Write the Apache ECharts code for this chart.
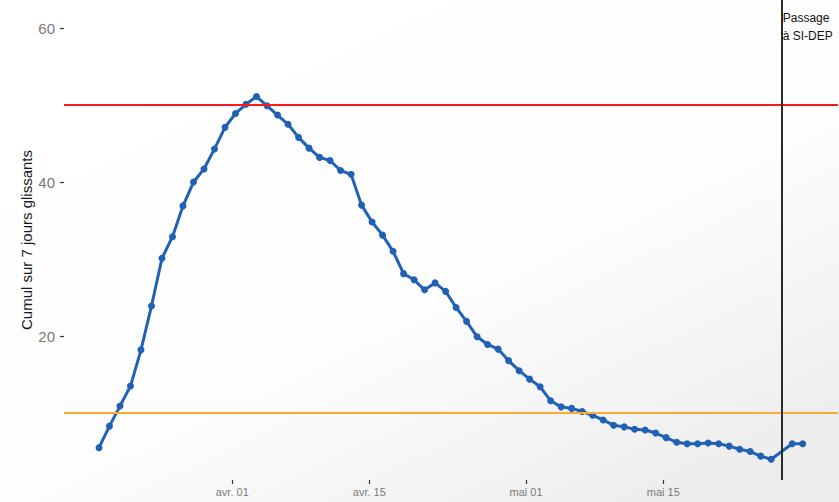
<!DOCTYPE html>
<html>
<head>
<meta charset="utf-8">
<script src="https://cdn.jsdelivr.net/npm/echarts@6/dist/echarts.min.js"></script>
<style>
html,body{margin:0;padding:0;background:#fff;}
#chart{width:839px;height:502px;}
</style>
</head>
<body>
<div id="chart"></div>
<script>
// Cumulative values over 7 sliding days, one per point (null = missing point)
const values = [5.5, 8.3, 10.9, 13.5, 18.2, 23.9, 30.1, 32.9, 36.9, 40.0,
  41.7, 44.3, 47.1, 48.9, 50.1, 51.1, 49.9, 48.7, 47.5, 45.8,
  44.4, 43.2, 42.8, 41.5, 41.0, 37.0, 34.8, 33.1, 31.0, 28.1,
  27.3, 26.0, 26.9, 25.8, 23.7, 21.9, 19.9, 18.9, 18.3, 16.8,
  15.5, 14.4, 13.4, 11.6, 10.8, 10.6, 10.2, 9.7, 9.1, 8.4,
  8.2, 7.9, 7.8, 7.4, 6.8, 6.2, 6.0, 6.0, 6.1, 6.0,
  5.7, 5.3, 5.0, 4.4, 4.0, null, 6.0, 6.0];
// x tick labels and their positions on the point-index scale
const tickLabels = ['avr. 01', 'avr. 15', 'mai 01', 'mai 15'];
const tickPositions = [12.69, 25.74, 40.66, 53.73];
const yTicks = [20, 40, 60];
const thresholdHigh = 50;
const thresholdLow = 10;
const switchIndex = 65;
const switchLabel = 'Passage\nà SI-DEP';
const yName = 'Cumul sur 7 jours glissants';

const seriesData = values.map((v, i) => [i, v]);

const chart = echarts.init(document.getElementById('chart'), null, {renderer: 'svg'});
chart.setOption({
  animation: false,
  backgroundColor: {
    type: 'linear', x: 0.15, y: 0.1, x2: 0.85, y2: 1,
    colorStops: [
      {offset: 0, color: '#ffffff'},
      {offset: 0.55, color: '#fdfdfd'},
      {offset: 1, color: '#ececec'}
    ]
  },
  grid: {left: 64, right: 1, top: 0, bottom: 22},
  xAxis: {
    type: 'value', min: -3.33, max: 70.36,
    axisLine: {show: false, onZero: false},
    splitLine: {show: false},
    axisTick: {show: true, customValues: tickPositions, length: 4,
      lineStyle: {color: '#333333', width: 1.2}},
    axisLabel: {
      customValues: tickPositions, margin: 6,
      color: '#7a7a7a', fontSize: 11, fontFamily: 'Liberation Sans, Arial, sans-serif',
      formatter: function (v) {
        let best = 0, d = Infinity;
        tickPositions.forEach((p, i) => { if (Math.abs(p - v) < d) { d = Math.abs(p - v); best = i; } });
        return tickLabels[best];
      }
    }
  },
  yAxis: {
    type: 'value', min: 1.3, max: 63.64,
    name: yName, nameLocation: 'middle', nameGap: 30, nameMoveOverlap: false,
    nameTextStyle: {color: '#1a1a1a', fontSize: 15, fontFamily: 'Liberation Sans, Arial, sans-serif'},
    axisLine: {show: false, onZero: false},
    splitLine: {show: false},
    axisTick: {show: true, customValues: yTicks, length: 4,
      lineStyle: {color: '#333333', width: 1.2}},
    axisLabel: {customValues: yTicks, margin: 9, color: '#7a7a7a', fontSize: 15,
      fontFamily: 'Liberation Sans, Arial, sans-serif'}
  },
  series: [
    {
      type: 'line', data: [], z: 1, silent: true,
      markLine: {
        symbol: 'none', silent: true, label: {show: false},
        data: [
          {yAxis: thresholdHigh, lineStyle: {color: '#ff1a1a', width: 2, type: 'solid'}},
          {yAxis: thresholdLow, lineStyle: {color: '#ffa833', width: 2, type: 'solid'}}
        ]
      }
    },
    {
      type: 'line', data: seriesData, z: 2, connectNulls: true,
      symbol: 'circle', symbolSize: 7,
      lineStyle: {color: '#2161b5', width: 3},
      itemStyle: {color: '#2161b5'}
    },
    {
      type: 'line', data: [], z: 3, silent: true,
      markLine: {
        symbol: 'none', silent: true, label: {show: false},
        data: [{xAxis: switchIndex, lineStyle: {color: '#2b2b2b', width: 2, type: 'solid'}}]
      },
      markPoint: {
        symbol: 'circle', symbolSize: 0,
        data: [{coord: [switchIndex, 60.1]}],
        label: {show: true, position: 'right', distance: 1, formatter: switchLabel,
          color: '#111111', fontSize: 12, lineHeight: 18, align: 'left',
          fontFamily: 'Liberation Sans, Arial, sans-serif'}
      }
    }
  ]
});
</script>
</body>
</html>
